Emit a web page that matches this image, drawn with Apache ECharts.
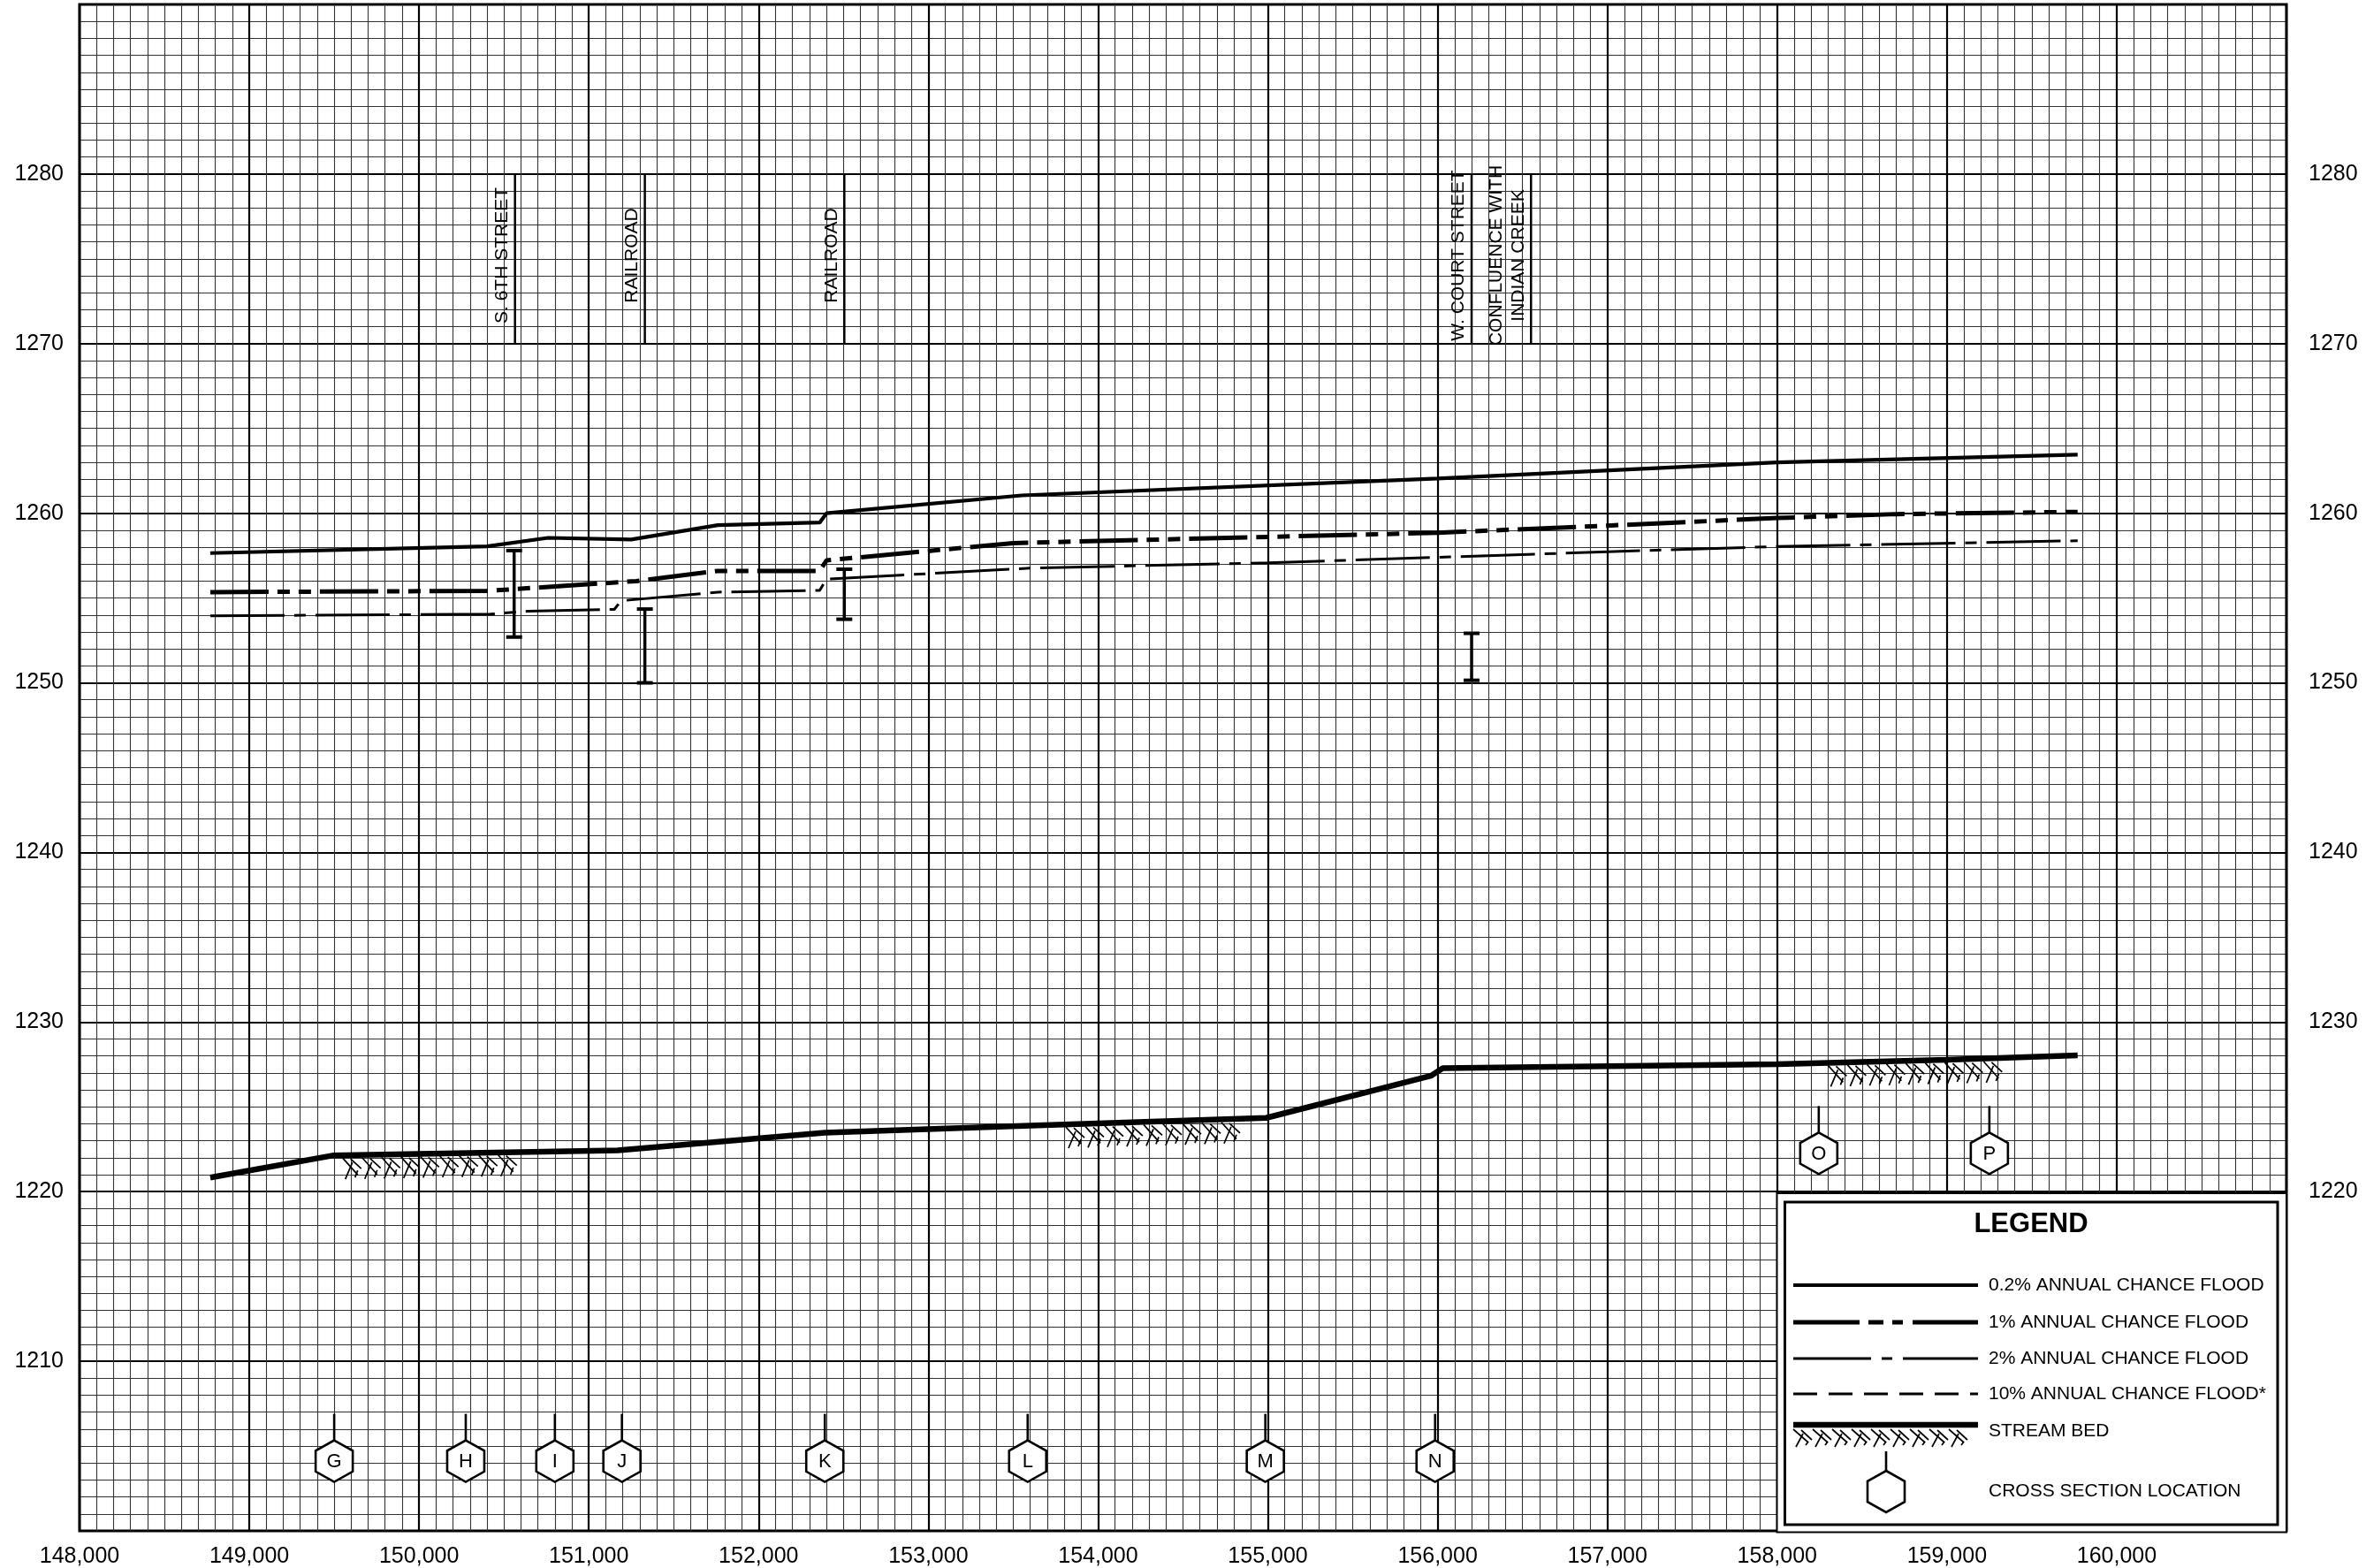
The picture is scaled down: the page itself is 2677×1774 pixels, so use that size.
<!DOCTYPE html>
<html>
<head>
<meta charset="utf-8">
<script src="https://cdn.jsdelivr.net/npm/echarts@6.0.0/dist/echarts.min.js"></script>
<style>
html, body { margin: 0; padding: 0; background: #fff; }
#main { width: 2677px; height: 1774px; }
</style>
</head>
<body>
<div id="main"></div>
<script>
// stream distance (ft) / elevation (ft)
var flood02Station = [148770, 150400, 150760, 151250, 151760, 152360, 152400, 153550, 156000, 158000, 159770];
var flood02Elev    = [1257.65, 1258.05, 1258.55, 1258.45, 1259.3, 1259.45, 1260.0, 1261.05, 1262.05, 1263.0, 1263.45];

var flood1Station = [148770, 150400, 151280, 151760, 152360, 152400, 153500, 156000, 157000, 158000, 158700, 159770];
var flood1Elev    = [1255.35, 1255.42, 1256.0, 1256.6, 1256.6, 1257.22, 1258.24, 1258.85, 1259.27, 1259.72, 1259.95, 1260.08];

var flood2Station = [148770, 150420, 150640, 151150, 151190, 151760, 152360, 152400, 153600, 155000, 156000, 157000, 158000, 159770];
var flood2Elev    = [1253.95, 1254.05, 1254.22, 1254.33, 1254.84, 1255.35, 1255.45, 1256.12, 1256.76, 1257.08, 1257.4, 1257.73, 1258.04, 1258.38];

var bedStation = [148770, 149490, 151170, 152390, 153600, 154990, 155960, 156030, 158000, 159000, 159770];
var bedElev    = [1220.83, 1222.13, 1222.44, 1223.48, 1223.9, 1224.35, 1226.83, 1227.28, 1227.52, 1227.78, 1228.04];

// stream bed hatch: start station, start elev, end station, end elev
var hatchStart     = [149550, 153810, 158300];
var hatchStartElev = [1222.14, 1223.97, 1227.6];
var hatchEnd       = [150680, 154915, 159410];
var hatchEndElev   = [1222.36, 1224.3, 1227.88];

// bridge openings (low chord / top)
var bridgeStation = [150560, 151330, 152505, 156200];
var bridgeLow     = [1252.7, 1250.0, 1253.75, 1250.15];
var bridgeHigh    = [1257.8, 1254.35, 1256.7, 1252.92];

// structures annotated at the top
var structStation = [150565, 151330, 152505, 156200, 156550];
var structLabel   = ['S. 6TH STREET', 'RAILROAD', 'RAILROAD', 'W. COURT STREET', 'CONFLUENCE WITH\nINDIAN CREEK'];
var structLow = 1270, structHigh = 1280;

// cross sections
var xsStation = [149500, 150275, 150800, 151195, 152390, 153585, 154985, 155985, 158245, 159250];
var xsTopElev = [1206.9, 1206.9, 1206.9, 1206.9, 1206.9, 1206.9, 1206.9, 1206.9, 1225.05, 1225.05];
var xsLabel   = ['G', 'H', 'I', 'J', 'K', 'L', 'M', 'N', 'O', 'P'];

var xTicks = { min: 148000, max: 161000, step: 1000 };
var yTicks = { min: 1200, max: 1290, step: 10 };

var FONT = 'Liberation Sans, Arial, sans-serif';

function zip(a, b) {
    var out = [];
    for (var i = 0; i < a.length; i++) out.push([a[i], b[i]]);
    return out;
}

// herringbone-ish soil hatch under the stream bed
function hatchLines(p0, p1, depth) {
    var out = [];
    var unit = 22;
    var len = p1[0] - p0[0];
    for (var u = 0; u + 20 <= len; u += unit) {
        var x = p0[0] + u;
        var yt = p0[1] + (p1[1] - p0[1]) * u / len + 2;
        var segs = [
            [x, yt + 1, x + 17, yt + depth - 5],
            [x + 3, yt + depth, x + 11, yt + 6],
            [x + 9, yt + 2, x + 21, yt + 13],
            [x + 14, yt + depth - 2, x + 17, yt + 15]
        ];
        segs.forEach(function (s) {
            out.push({
                type: 'line',
                shape: { x1: s[0], y1: s[1], x2: s[2], y2: s[3] },
                style: { stroke: '#000', lineWidth: 1.7 },
                z2: 5
            });
        });
    }
    return out;
}

function hexagon(cx, top, w, h, z) {
    var hw = w / 2;
    return {
        type: 'polygon',
        shape: { points: [[cx, top], [cx + hw, top + h * 0.25], [cx + hw, top + h * 0.75], [cx, top + h], [cx - hw, top + h * 0.75], [cx - hw, top + h * 0.25]] },
        style: { fill: '#fff', stroke: '#000', lineWidth: 2.6 },
        z: z
    };
}

var myChart = echarts.init(document.getElementById('main'));

var option = {
    animation: false,
    backgroundColor: '#fff',
    grid: {
        left: 90, top: 5, width: 2497, height: 1728,
        show: true, borderColor: '#000', borderWidth: 3, backgroundColor: 'transparent'
    },
    xAxis: {
        type: 'value',
        min: xTicks.min, max: xTicks.max, interval: xTicks.step,
        axisLine: { show: false },
        axisTick: { show: false },
        minorTick: { show: false, splitNumber: 10 },
        splitLine: { show: true, lineStyle: { color: '#000', width: 2.2 } },
        minorSplitLine: { show: true, lineStyle: { color: '#333', width: 1.1 } },
        axisLabel: {
            margin: 17, color: '#000', fontSize: 25, fontFamily: FONT,
            showMaxLabel: false,
            formatter: function (v) { return v.toLocaleString('en-US'); }
        }
    },
    yAxis: [
        {
            type: 'value', position: 'left',
            min: yTicks.min, max: yTicks.max, interval: yTicks.step,
            axisLine: { show: false },
            axisTick: { show: false },
            minorTick: { show: false, splitNumber: 10 },
            splitLine: { show: true, lineStyle: { color: '#000', width: 2.2 } },
            minorSplitLine: { show: true, lineStyle: { color: '#333', width: 1.1 } },
            axisLabel: {
                margin: 18, color: '#000', fontSize: 25, fontFamily: FONT,
                padding: [0, 0, 10, 0],
                showMinLabel: false, showMaxLabel: false,
                formatter: function (v) { return String(v); }
            }
        },
        {
            type: 'value', position: 'right',
            min: yTicks.min, max: yTicks.max, interval: yTicks.step,
            axisLine: { show: false },
            axisTick: { show: false },
            splitLine: { show: false },
            axisLabel: {
                margin: 25, color: '#000', fontSize: 25, fontFamily: FONT,
                padding: [0, 0, 10, 0],
                showMinLabel: false, showMaxLabel: false,
                formatter: function (v) { return v <= 1210 ? '' : String(v); }
            }
        }
    ],
    series: [
        {
            name: '0.2% ANNUAL CHANCE FLOOD', type: 'line', data: zip(flood02Station, flood02Elev),
            showSymbol: false, symbol: 'none',
            lineStyle: { color: '#000', width: 4.2 }
        },
        {
            name: '1% ANNUAL CHANCE FLOOD', type: 'line', data: zip(flood1Station, flood1Elev),
            showSymbol: false, symbol: 'none',
            lineStyle: { color: '#000', width: 5, type: [66, 10, 14, 10, 14, 10] }
        },
        {
            name: '2% ANNUAL CHANCE FLOOD', type: 'line', data: zip(flood2Station, flood2Elev),
            showSymbol: false, symbol: 'none',
            lineStyle: { color: '#000', width: 3, type: [84, 11, 13, 11] }
        },
        {
            name: 'STREAM BED', type: 'line', data: zip(bedStation, bedElev),
            showSymbol: false, symbol: 'none',
            lineStyle: { color: '#000', width: 6.5 }
        },
        {
            name: 'hatch', type: 'custom',
            data: hatchStart.map(function (s, i) { return [s, hatchStartElev[i], hatchEnd[i], hatchEndElev[i]]; }),
            renderItem: function (params, api) {
                var p0 = api.coord([api.value(0), api.value(1)]);
                var p1 = api.coord([api.value(2), api.value(3)]);
                return { type: 'group', children: hatchLines(p0, p1, 25) };
            }
        },
        {
            name: 'bridges', type: 'custom',
            data: bridgeStation.map(function (s, i) { return [s, bridgeLow[i], bridgeHigh[i]]; }),
            renderItem: function (params, api) {
                var lo = api.coord([api.value(0), api.value(1)]);
                var hi = api.coord([api.value(0), api.value(2)]);
                return {
                    type: 'group',
                    children: [
                        { type: 'line', shape: { x1: lo[0], y1: lo[1], x2: hi[0], y2: hi[1] }, style: { stroke: '#000', lineWidth: 3.5 } },
                        { type: 'line', shape: { x1: hi[0] - 9, y1: hi[1], x2: hi[0] + 9, y2: hi[1] }, style: { stroke: '#000', lineWidth: 4 } },
                        { type: 'line', shape: { x1: lo[0] - 9, y1: lo[1], x2: lo[0] + 9, y2: lo[1] }, style: { stroke: '#000', lineWidth: 4 } }
                    ]
                };
            }
        },
        {
            name: 'structures', type: 'custom',
            data: structStation.map(function (s) { return [s, structLow, structHigh]; }),
            renderItem: function (params, api) {
                var lo = api.coord([api.value(0), api.value(1)]);
                var hi = api.coord([api.value(0), api.value(2)]);
                var mid = api.coord([api.value(0), 1275.2]);
                return {
                    type: 'group',
                    children: [
                        { type: 'line', shape: { x1: lo[0], y1: lo[1], x2: hi[0], y2: hi[1] }, style: { stroke: '#000', lineWidth: 2.5 } },
                        {
                            type: 'text', x: mid[0] - 2, y: mid[1], rotation: Math.PI / 2,
                            style: {
                                text: structLabel[params.dataIndex], fill: '#000',
                                font: '21px ' + FONT, align: 'center', verticalAlign: 'bottom', lineHeight: 25
                            },
                            z2: 10
                        }
                    ]
                };
            }
        },
        {
            name: 'cross sections', type: 'custom',
            data: xsStation.map(function (s, i) { return [s, xsTopElev[i]]; }),
            renderItem: function (params, api) {
                var p = api.coord([api.value(0), api.value(1)]);
                var stem = 30, w = 42, h = 47;
                return {
                    type: 'group',
                    children: [
                        { type: 'line', shape: { x1: p[0], y1: p[1], x2: p[0], y2: p[1] + stem }, style: { stroke: '#000', lineWidth: 2.6 } },
                        hexagon(p[0], p[1] + stem, w, h, 0),
                        {
                            type: 'text', x: p[0], y: p[1] + stem + h / 2 + 1,
                            style: { text: xsLabel[params.dataIndex], fill: '#000', font: '22px ' + FONT, align: 'center', verticalAlign: 'middle' }
                        }
                    ]
                };
            }
        }
    ],
    graphic: []
};

// legend box in the lower right corner
var lg = [];
var Z = 100;
lg.push({ type: 'rect', shape: { x: 2010.5, y: 1350, width: 576.5, height: 383.5 }, style: { fill: '#fff', stroke: '#000', lineWidth: 2 }, z: Z });
lg.push({ type: 'rect', shape: { x: 2019.5, y: 1360, width: 557.5, height: 365 }, style: { fill: 'none', stroke: '#000', lineWidth: 3 }, z: Z });
lg.push({ type: 'text', x: 2298, y: 1385, style: { text: 'LEGEND', fill: '#000', font: 'bold 31px ' + FONT, align: 'center', verticalAlign: 'middle' }, z: Z });

var lx0 = 2029, lx1 = 2238, tx = 2250;
var rows = [
    { y: 1454, text: '0.2% ANNUAL CHANCE FLOOD', w: 4.2, dash: null },
    { y: 1496, text: '1% ANNUAL CHANCE FLOOD', w: 5, dash: [75, 10, 17, 10, 12, 11] },
    { y: 1537, text: '2% ANNUAL CHANCE FLOOD', w: 3, dash: [88, 12, 12, 12] },
    { y: 1577, text: '10% ANNUAL CHANCE FLOOD*', w: 3, dash: [27, 13] }
];
rows.forEach(function (r) {
    lg.push({
        type: 'polyline', shape: { points: [[lx0, r.y], [lx1, r.y]] },
        style: { stroke: '#000', lineWidth: r.w, lineDash: r.dash || null }, z: Z
    });
    lg.push({ type: 'text', x: tx, y: r.y, style: { text: r.text, fill: '#000', font: '21px ' + FONT, align: 'left', verticalAlign: 'middle' }, z: Z });
});
lg.push({ type: 'line', shape: { x1: lx0, y1: 1612, x2: lx1, y2: 1612 }, style: { stroke: '#000', lineWidth: 6.5 }, z: Z });
hatchLines([lx0, 1614], [lx1, 1614], 21).forEach(function (el) { el.z = Z; lg.push(el); });
lg.push({ type: 'text', x: tx, y: 1619, style: { text: 'STREAM BED', fill: '#000', font: '21px ' + FONT, align: 'left', verticalAlign: 'middle' }, z: Z });
lg.push({ type: 'line', shape: { x1: 2134, y1: 1642, x2: 2134, y2: 1664 }, style: { stroke: '#000', lineWidth: 2.6 }, z: Z });
lg.push(hexagon(2134, 1664, 42, 47, Z));
lg.push({ type: 'text', x: tx, y: 1687, style: { text: 'CROSS SECTION LOCATION', fill: '#000', font: '21px ' + FONT, align: 'left', verticalAlign: 'middle' }, z: Z });

option.graphic = lg;
myChart.setOption(option);
</script>
</body>
</html>
